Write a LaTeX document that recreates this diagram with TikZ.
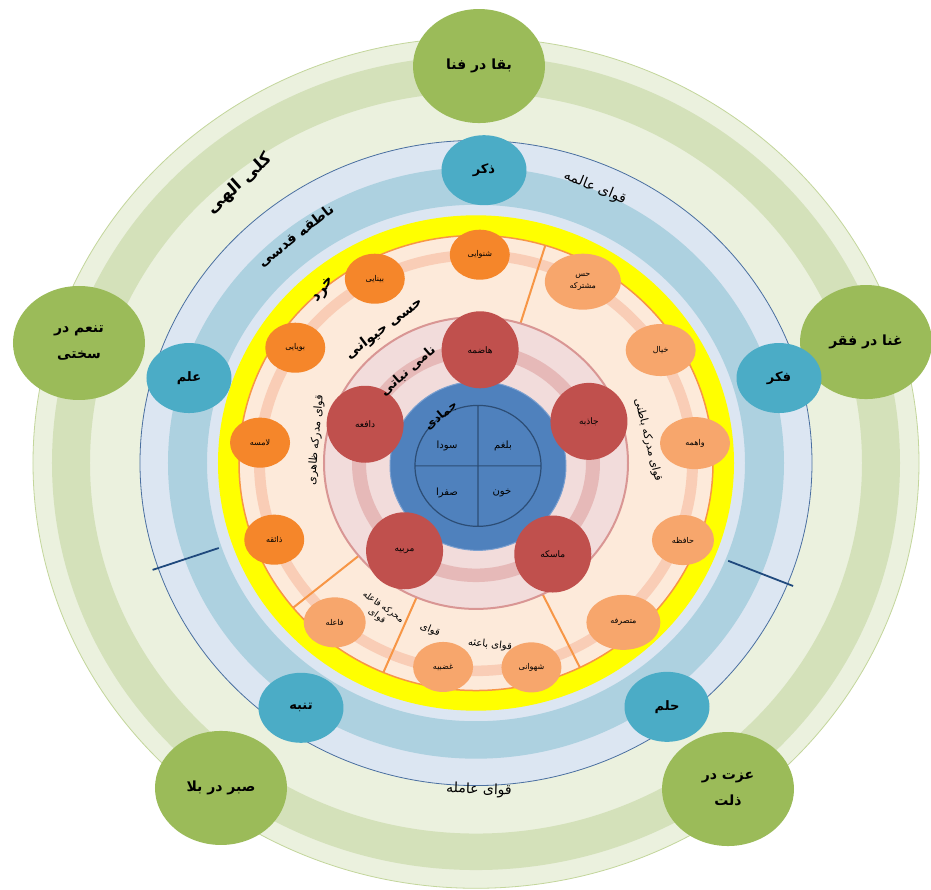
\documentclass[tikz,border=0pt]{standalone}
\usepackage{fontspec}
\usetikzlibrary{shapes.geometric}
\newfontfamily\arabicfont[Script=Arabic]{DejaVu Sans}
\TeXXeTstate=1
\newcommand{\fa}[1]{\beginR #1\endR}

\definecolor{kollipale}{HTML}{EBF1DE}
\definecolor{kollidark}{HTML}{D4E1BA}
\definecolor{kolliedge}{HTML}{C3D69B}
\definecolor{halatgreen}{HTML}{9BBB59}
\definecolor{qodsipale}{HTML}{DCE6F2}
\definecolor{qodsidark}{HTML}{ADD1E0}
\definecolor{qodsiedge}{HTML}{4A6FA0}
\definecolor{qodsiline}{HTML}{1F497D}
\definecolor{fazilatblue}{HTML}{4BACC6}
\definecolor{kheradyellow}{HTML}{FFFF00}
\definecolor{hayvanipeach}{HTML}{FDEADA}
\definecolor{hayvaniorange}{HTML}{F79646}
\definecolor{hayvanitrack}{HTML}{F9CDB6}
\definecolor{zaheriorange}{HTML}{F5862A}
\definecolor{bateniorange}{HTML}{F7A66C}
\definecolor{nabatipink}{HTML}{F2DCDB}
\definecolor{nabatiband}{HTML}{E6B9B8}
\definecolor{nabatiedge}{HTML}{D99694}
\definecolor{nabatired}{HTML}{C0504D}
\definecolor{jamadblue}{HTML}{4F81BD}
\definecolor{jamadedge}{HTML}{7BA0D0}
\definecolor{kheltline}{HTML}{2C4D75}

\begin{document}
\begin{tikzpicture}[
                        x=1pt, y=0.96pt,
                        every node/.style={font=\arabicfont},
                        halat/.style={ellipse, fill=halatgreen, minimum width=132pt, minimum height=114pt, inner sep=0pt, align=center, font=\arabicfont\bfseries\fontsize{14}{26}\selectfont},
                        fazilat/.style={ellipse, fill=fazilatblue, minimum width=85pt, minimum height=70pt, inner sep=0pt, font=\arabicfont\bfseries\fontsize{13}{16}\selectfont},
                        zaheri/.style={ellipse, fill=zaheriorange, minimum width=60pt, minimum height=50pt, inner sep=0pt, font=\arabicfont\fontsize{8}{10}\selectfont},
                        bateni/.style={ellipse, fill=bateniorange, minimum width=70pt, minimum height=52pt, inner sep=0pt, align=center, font=\arabicfont\fontsize{8}{12}\selectfont},
                        nabati/.style={circle, fill=nabatired, minimum size=77pt, inner sep=0pt, font=\arabicfont\fontsize{9}{11}\selectfont},
                        khelt/.style={font=\arabicfont\fontsize{10}{12}\selectfont},
                        martabe/.style={font=\arabicfont\bfseries\fontsize{14}{16}\selectfont},
                        quva/.style={font=\arabicfont\fontsize{11}{13}\selectfont, align=center}
                    ]
                    \useasboundingbox (-476,-443.75) rectangle (455,482.29);
                    \fill[white] (-476,-443.75) rectangle (455,482.29);

                    % Rings
                    \filldraw[fill=kollipale, draw=kolliedge, line width=0.8pt] (0,0) circle (443);
                    \fill[kollidark, even odd rule] (0,0) circle (424) circle (386);
                    \filldraw[fill=qodsipale, draw=qodsiedge, line width=0.8pt] (0,0) circle (336);
                    \fill[qodsidark, even odd rule] (0,0) circle (308) circle (269);
                    \fill[kheradyellow] (0,0) circle (258);
                    \filldraw[fill=hayvanipeach, draw=hayvaniorange, line width=1.5pt] (0,0) circle (237);
                    \fill[hayvanitrack, even odd rule] (0,0) circle (222) circle (211);

                    % Dividers
                    \draw[hayvaniorange, line width=2pt] (73:152) -- (73:237) (219.5:152) -- (219.5:237)
                        (247:152) -- (247:237) (-64:152) -- (-64:237);
                    \draw[qodsiline, line width=1.8pt] (199:272) -- (199:342) (-22:272) -- (-22:342);

                    \filldraw[fill=nabatipink, draw=nabatiedge, line width=2pt] (0,0) circle (152);
                    \fill[nabatiband, even odd rule] (0,0) circle (124) circle (110);
                    \filldraw[fill=jamadblue, draw=jamadedge, line width=1pt] (2,-3) circle (88);
                    \draw[kheltline, line width=1.2pt] (2,-3) circle (63) (2,-66) -- (2,60) (-61,-3) -- (65,-3);

                    % Outer states
                    \node[halat] (baqa) at (3,413.5) {\fa{بقا در فنا}};
                    \node[halat] (ghena) at (390,126) {\fa{غنا در فقر}};
                    \node[halat] (ezzat) at (252,-339.6) {\fa{عزت در}\\\fa{ذلت}};
                    \node[halat] (sabr) at (-255,-338.5) {\fa{صبر در بلا}};
                    \node[halat] (tanaom) at (-397,125) {\fa{تنعم در}\\\fa{سختی}};

                    % Virtues
                    \node[fazilat] (zekr) at (8,305) {\fa{ذکر}};
                    \node[fazilat] (fekr) at (303,88.5) {\fa{فکر}};
                    \node[fazilat] (helm) at (191,-254) {\fa{حلم}};
                    \node[fazilat] (tanabboh) at (-175,-255) {\fa{تنبه}};
                    \node[fazilat] (elm) at (-287,88.5) {\fa{علم}};

                    % Outer senses
                    \node[zaheri] (shenavayi) at (89:217) {\fa{شنوایی}};
                    \node[zaheri] (binayi) at (117.8:217) {\fa{بینایی}};
                    \node[zaheri] (booyayi) at (146.4:217) {\fa{بویایی}};
                    \node[zaheri] (lamese) at (174.4:217) {\fa{لامسه}};
                    \node[zaheri] (zaeqe) at (201.6:217) {\fa{ذائقه}};

                    % Inner senses and movers
                    \node[bateni, minimum width=76pt, minimum height=56pt] (hess) at (60.5:217) {\fa{حس}\\\fa{مشترکه}};
                    \node[bateni] (khiyal) at (32.5:219) {\fa{خیال}};
                    \node[bateni] (vaheme) at (5.4:220) {\fa{واهمه}};
                    \node[bateni, minimum width=62pt, minimum height=50pt] (hafeze) at (-21.2:222) {\fa{حافظه}};
                    \node[bateni, minimum width=74pt, minimum height=55pt] (motasarefe) at (-48.4:222) {\fa{متصرفه}};
                    \node[bateni, minimum width=60pt, minimum height=50pt] (shahvani) at (-75.4:220) {\fa{شهوانی}};
                    \node[bateni, minimum width=60pt, minimum height=50pt] (ghazabiye) at (-98.8:215) {\fa{غضبیه}};
                    \node[bateni, minimum width=62pt, minimum height=50pt] (faele) at (229.6:218) {\fa{فاعله}};

                    % Plant faculties
                    \node[nabati] (hazeme) at (88:118) {\fa{هاضمه}};
                    \node[nabati] (jazebe) at (21:121) {\fa{جاذبه}};
                    \node[nabati] (maseke) at (-51:122) {\fa{ماسکه}};
                    \node[nabati] (morabbiye) at (232:116) {\fa{مربیه}};
                    \node[nabati] (dafee) at (160:118) {\fa{دافعه}};

                    % Humours
                    \node[khelt] (balgham) at (27,17.7) {\fa{بلغم}};
                    \node[khelt] (sowda) at (-29,17.7) {\fa{سودا}};
                    \node[khelt] (safra) at (-29,-31) {\fa{صفرا}};
                    \node[khelt] (khun) at (26,-31) {\fa{خون}};

                    % Ring labels
                    \node[martabe, font=\arabicfont\bfseries\fontsize{17}{20}\selectfont, rotate=42] (kolli) at (-236,290.6) {\fa{کلی الهی}};
                    \node[martabe, rotate=38] (nateqe) at (-180,236.5) {\fa{ناطقه قدسی}};
                    \node[martabe, font=\arabicfont\bfseries\fontsize{15}{18}\selectfont, rotate=55] (kherad) at (-152,180) {\fa{خرد}};
                    \node[martabe, rotate=37] (hayvani) at (-92,140) {\fa{حسی حیوانی}};
                    \node[martabe, font=\arabicfont\bfseries\fontsize{13}{15}\selectfont, rotate=41] (nabatiname) at (-68,96) {\fa{نامی نباتی}};
                    \node[martabe, font=\arabicfont\bfseries\fontsize{12}{14}\selectfont, rotate=40] (jamadi) at (-35,49) {\fa{جمادی}};
                    \node[quva, font=\arabicfont\fontsize{14}{16}\selectfont, rotate=-22] (aleme) at (119,286.5) {\fa{قوای عالمه}};
                    \node[quva, font=\arabicfont\fontsize{14}{16}\selectfont, rotate=-2] (ameleh) at (3,-340.6) {\fa{قوای عامله}};
                    \node[quva, rotate=85] (modrekezaheri) at (-160,24) {\fa{قوای مدرکه ظاهری}};
                    \node[quva, rotate=-76] (modrekebateni) at (172,24) {\fa{قوای مدرکه باطنی}};
                    \node[quva, font=\arabicfont\fontsize{9}{11}\selectfont, rotate=-35] (moharreke) at (-96,-155) {\fa{محرکه فاعله}\\\fa{قوای}};
                    \node[quva, font=\arabicfont\fontsize{10}{12}\selectfont, rotate=-22] (quvastray) at (-46,-174) {\fa{قوای}};
                    \node[quva, font=\arabicfont\fontsize{10}{12}\selectfont, rotate=-6] (baese) at (14,-189.6) {\fa{قوای باعثه}};
                \end{tikzpicture}
\end{document}
